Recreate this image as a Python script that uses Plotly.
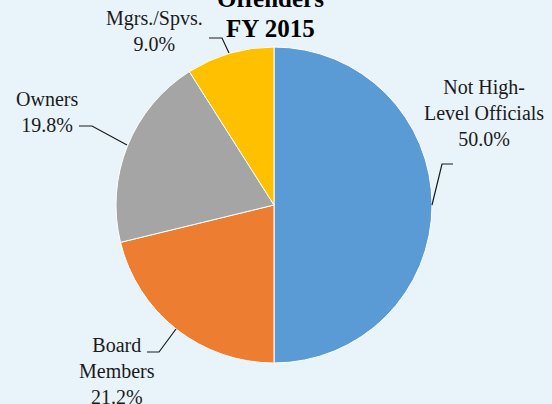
import plotly.graph_objects as go

categories = ["Not High-Level Officials", "Board Members", "Owners", "Mgrs./Spvs."]
values = [50.0, 21.2, 19.8, 9.0]
label_wraps = ["Not High-<br>Level Officials", "Board<br>Members", "Owners", "Mgrs./Spvs."]
colors = ["#5B9BD5", "#ED7D31", "#A5A5A5", "#FFC000"]
title_lines = ["Offenders", "FY 2015"]

W, H = 552, 404
BG = "#E9F4FA"
FONT = "Liberation Serif, Times New Roman, serif"

def px(x):
    return x / W

def py(y):
    return 1 - y / H

fig = go.Figure(go.Pie(
    labels=categories,
    values=values,
    sort=False,
    direction="clockwise",
    rotation=0,
    marker=dict(colors=colors, line=dict(color="white", width=1)),
    textinfo="none",
    hoverinfo="label+percent",
    showlegend=False,
    domain=dict(x=[px(116), px(432)], y=[py(363), py(47)]),
))

# label positions (pixel centres) and leader lines
label_pos = [(484, 113), (117, 371), (47, 112), (154, 31)]
leaders = [
    [(453, 164), (442, 164), (432, 205)],
    [(147, 352), (159, 352), (176, 329)],
    [(79, 126), (92, 126), (127, 145)],
    [(209, 38), (222, 38), (229, 53)],
]

annotations = []
for wrap, v, (cx, cy) in zip(label_wraps, values, label_pos):
    annotations.append(dict(
        x=px(cx), y=py(cy), xref="paper", yref="paper",
        text=f"{wrap}<br>{v:.1f}%", showarrow=False,
        xanchor="center", yanchor="middle", align="center",
        font=dict(family=FONT, size=20, color="#1A1A1A"),
    ))

title_y = [-2, 28]
for t, ty in zip(title_lines, title_y):
    annotations.append(dict(
        x=px(270), y=py(ty), xref="paper", yref="paper",
        text=f"<b>{t}</b>", showarrow=False,
        xanchor="center", yanchor="middle",
        font=dict(family=FONT, size=25, color="#000000"),
    ))

shapes = []
for pts in leaders:
    path = "M " + " L ".join(f"{px(x)},{py(y)}" for x, y in pts)
    shapes.append(dict(type="path", path=path, xref="paper", yref="paper",
                       line=dict(color="#1A1A1A", width=1.2)))

fig.update_layout(
    width=W, height=H,
    margin=dict(l=0, r=0, t=0, b=0),
    paper_bgcolor=BG, plot_bgcolor=BG,
    annotations=annotations,
    shapes=shapes,
)

fig.write_html(
    "out.html",
    config={"displayModeBar": False},
    post_script="document.body.style.margin='0';document.body.style.overflow='hidden';",
)
